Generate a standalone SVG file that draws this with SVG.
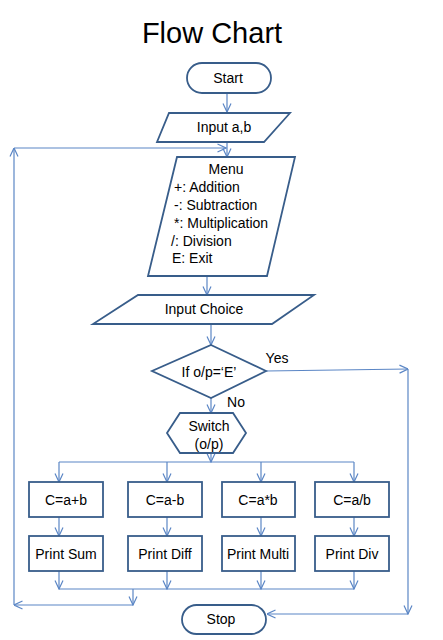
<svg xmlns="http://www.w3.org/2000/svg" width="443" height="640" viewBox="0 0 443 640">
<defs>
<style>
.s{fill:#fff;stroke:#385D8A;stroke-width:1.8}
.c{fill:none;stroke:#5B86C5;stroke-width:1.2}
.t{font-family:"Liberation Sans",Arial,sans-serif;font-size:14px;fill:#000}
.m{text-anchor:middle}
</style>
<marker id="a" viewBox="0 0 10 10" refX="9.5" refY="5" markerWidth="10" markerHeight="10" markerUnits="userSpaceOnUse" orient="auto">
<polyline points="1,1 9.5,5 1,9" fill="none" stroke="#5B86C5" stroke-width="1.2"/>
</marker>
</defs>
<rect width="443" height="640" fill="#fff"/>
<text x="212" y="43" class="t m" style="font-size:29px">Flow Chart</text>

<g id="connectors" class="c" marker-end="url(#a)">
<line x1="227" y1="93" x2="227" y2="112"/>
<line x1="227" y1="142" x2="227" y2="157"/>
<line x1="133" y1="589" x2="133" y2="605"/>
<line x1="133" y1="605" x2="14" y2="605"/>
<line x1="14" y1="605" x2="14" y2="148"/>
<line x1="14" y1="148" x2="226" y2="148"/>
<line x1="207" y1="276" x2="207" y2="295"/>
<line x1="211" y1="324" x2="211" y2="345"/>
<line x1="211" y1="398" x2="211" y2="413"/>
<line x1="266" y1="371" x2="408" y2="369"/>
<line x1="408" y1="369" x2="408" y2="614"/>
<line x1="408" y1="614" x2="267" y2="614"/>
<line x1="211" y1="453" x2="211" y2="462"/>
<line x1="59" y1="462" x2="354" y2="462" marker-end="none"/>
<line x1="59" y1="462" x2="59" y2="482"/>
<line x1="167" y1="462" x2="167" y2="482"/>
<line x1="261" y1="462" x2="261" y2="482"/>
<line x1="354" y1="462" x2="354" y2="482"/>
<line x1="59" y1="517" x2="59" y2="536"/>
<line x1="167" y1="517" x2="167" y2="536"/>
<line x1="261" y1="517" x2="261" y2="536"/>
<line x1="354" y1="517" x2="354" y2="536"/>
<line x1="59" y1="571" x2="59" y2="589"/>
<line x1="167" y1="571" x2="167" y2="589"/>
<line x1="261" y1="571" x2="261" y2="589"/>
<line x1="354" y1="571" x2="354" y2="589"/>
<line x1="59" y1="589" x2="354" y2="589" marker-end="none"/>
</g>

<g id="start"><rect x="187" y="63" width="84" height="30" rx="15" class="s"/><text x="228" y="83" class="t m">Start</text></g>
<g id="input-ab"><polygon points="169,113 290,113 264,142 157,142" class="s"/><text x="224" y="132" class="t m">Input a,b</text></g>
<g id="menu"><polygon points="177,157 295,157 267,276 148,276" class="s"/>
<text x="226" y="174" class="t m">Menu</text>
<text x="174" y="192" class="t">+: Addition</text>
<text x="174" y="210" class="t">-: Subtraction</text>
<text x="174" y="228" class="t">*: Multiplication</text>
<text x="171" y="246" class="t">/: Division</text>
<text x="172" y="263" class="t">E: Exit</text>
</g>
<g id="input-choice"><polygon points="138,295 314,295 272,324 93,324" class="s"/><text x="204" y="314" class="t m">Input Choice</text></g>
<g id="decision"><polygon points="211,345 266,371 211,398 152,371" class="s"/><text x="209" y="377" class="t m">If o/p=‘E’</text></g>
<text x="277" y="363" class="t m">Yes</text>
<text x="236" y="407" class="t m">No</text>
<g id="switch"><polygon points="180,413 233,413 246,433 233,453 180,453 167,433" class="s"/><text x="209" y="431" class="t m">Switch</text><text x="209" y="449" class="t m">(o/p)</text></g>
<g id="add"><rect x="29" y="482" width="74" height="35" class="s"/><text x="66" y="505" class="t m">C=a+b</text></g>
<g id="sub"><rect x="128" y="482" width="74" height="35" class="s"/><text x="165" y="505" class="t m">C=a-b</text></g>
<g id="mul"><rect x="222" y="482" width="73" height="35" class="s"/><text x="258" y="505" class="t m">C=a*b</text></g>
<g id="div"><rect x="315" y="482" width="74" height="35" class="s"/><text x="352" y="505" class="t m">C=a/b</text></g>
<g id="print-sum"><rect x="29" y="536" width="74" height="35" class="s"/><text x="66" y="559" class="t m">Print Sum</text></g>
<g id="print-diff"><rect x="128" y="536" width="74" height="35" class="s"/><text x="165" y="559" class="t m">Print Diff</text></g>
<g id="print-multi"><rect x="222" y="536" width="73" height="35" class="s"/><text x="258" y="559" class="t m">Print Multi</text></g>
<g id="print-div"><rect x="315" y="536" width="74" height="35" class="s"/><text x="352" y="559" class="t m">Print Div</text></g>
<g id="stop"><rect x="182" y="605" width="84" height="29" rx="14.5" class="s"/><text x="221" y="624" class="t m">Stop</text></g>
</svg>
